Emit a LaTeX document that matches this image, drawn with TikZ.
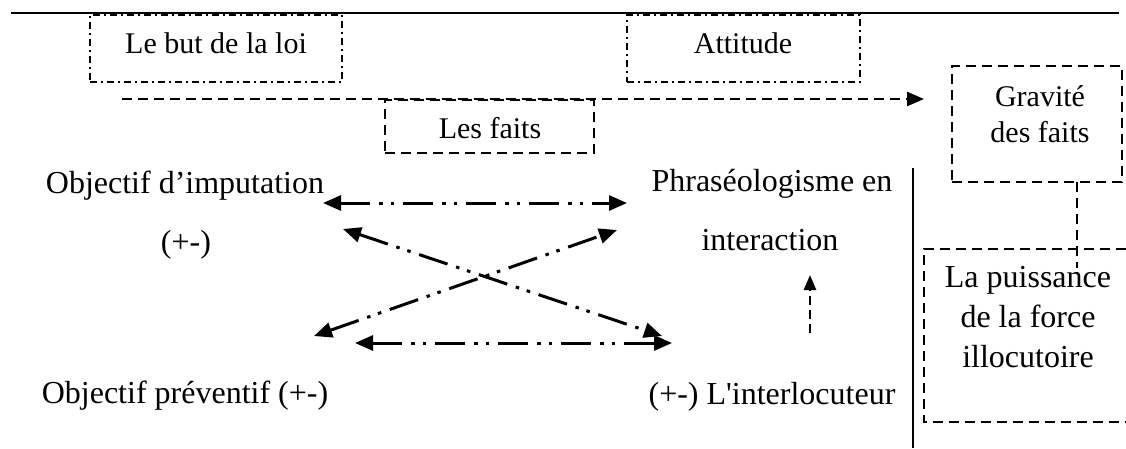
\documentclass[tikz,border=0pt]{standalone}
\usepackage{fontspec}
\setmainfont{Liberation Serif}[Ligatures=TeXOff]
\usetikzlibrary{arrows.meta}
\begin{document}
\begin{tikzpicture}[x=1pt,y=-1pt,
  lbl/.style={inner sep=0pt,font=\fontsize{32}{40}\selectfont},
  lbls/.style={inner sep=0pt,font=\fontsize{30}{36}\selectfont},
  dotbox/.style={draw,inner sep=0pt,line width=1.7pt,dash pattern=on 7pt off 4pt on 2pt off 4pt},
  dashbox/.style={draw,inner sep=0pt,line width=2.8pt,dash pattern=on 10pt off 6pt},
  rel/.style={line width=3pt,dash pattern=on 30pt off 9pt on 3.5pt off 8pt on 3.5pt off 9pt,
    {Triangle[length=18pt,width=15pt]}-{Triangle[length=18pt,width=15pt]}},
  dasharrow/.style={line width=2.6pt,dash pattern=on 10pt off 6pt,-{Triangle[length=17pt,width=14pt]}},
  rule/.style={line width=2.2pt}]
\useasboundingbox (0,0) rectangle (1126,448);

% rules
\coordinate (t1) at (11,13);
\coordinate (t2) at (1119,13);
\draw[rule] (t1) -- (t2);
\coordinate (v1) at (913,168);
\coordinate (v2) at (913,448);
\draw[rule] (v1) -- (v2);

% boxes
\node[dotbox,minimum width=252pt,minimum height=67pt] (but) at (216,48.5) {};
\node[lbls,anchor=base] (butt) at (216,53) {Le but de la loi};
\node[dotbox,minimum width=233pt,minimum height=67pt] (att) at (743.5,48.5) {};
\node[lbls,anchor=base] (attt) at (743,53) {Attitude};
\node[dashbox,minimum width=209pt,minimum height=53pt] (faits) at (489.5,126.5) {};
\node[lbls,anchor=base] (faitst) at (490,138) {Les faits};
\node[dashbox,minimum width=170pt,minimum height=116pt] (grav) at (1037,124) {};
\node[lbls,align=center] (gravt) at (1040,114) {Gravité\\des faits};

% lower box (open to the right)
\coordinate (p1) at (1126,249);
\coordinate (p2) at (924,249);
\coordinate (p3) at (924,422);
\coordinate (p4) at (1126,422);
\draw[line width=2.8pt,dash pattern=on 10pt off 6pt] (p1) -- (p2) -- (p3) -- (p4);
\node[lbl,align=center] (puis) at (1028,317) {La puissance\\de la force\\illocutoire};

% texts
\node[lbl,anchor=base] (imp) at (185,193) {Objectif d’imputation};
\node[lbl,anchor=base] (pm) at (186,252) {(+-)};
\node[lbl,anchor=base] (prev) at (185,403) {Objectif préventif (+-)};
\node[lbl,anchor=base] (phr) at (772,191) {Phraséologisme en};
\node[lbl,anchor=base] (inter) at (770,250) {interaction};
\node[lbl,anchor=base] (interl) at (772,404) {(+-) L'interlocuteur};

% arrow ends
\coordinate (a1s) at (323,203);
\coordinate (a1e) at (627,203);
\coordinate (a2s) at (343,229);
\coordinate (a2e) at (662,336);
\coordinate (a3s) at (314,336);
\coordinate (a3e) at (617,230);
\coordinate (a4s) at (355,343);
\coordinate (a4e) at (672,343);
\coordinate (a5s) at (810,333);
\coordinate (a5e) at (810,275);
\coordinate (l1) at (122,99);
\coordinate (l2) at (924,99);
\coordinate (g1) at (1077,182);
\coordinate (g2) at (1077,268);

\draw[rel] (a1s) -- (a1e);
\draw[rel] (a2s) -- (a2e);
\draw[rel] (a3s) -- (a3e);
\draw[rel] (a4s) -- (a4e);
\draw[line width=2.6pt,dash pattern=on 9pt off 5pt,-{Triangle[length=15pt,width=12pt]}] (a5s) -- (a5e);
\draw[dasharrow] (l1) -- (l2);
\draw[line width=2.8pt,dash pattern=on 10pt off 6pt] (g1) -- (g2);
\end{tikzpicture}
\end{document}
